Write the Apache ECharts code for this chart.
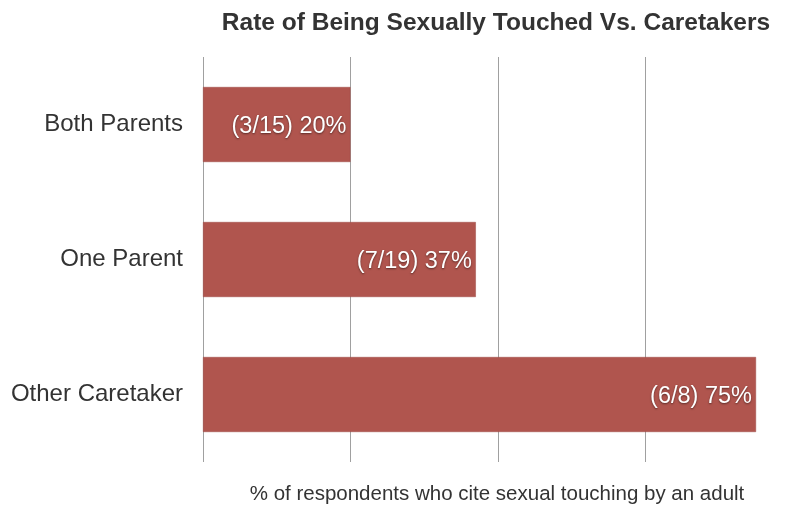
<!DOCTYPE html>
<html>
<head>
<meta charset="utf-8">
<script src="https://cdn.jsdelivr.net/npm/echarts@6/dist/echarts.min.js"></script>
<style>
  html, body { margin: 0; padding: 0; background: #fff; }
  #chart { width: 792px; height: 506px; }
</style>
</head>
<body>
<div id="chart"></div>
<script>
var categories = ["Both Parents", "One Parent", "Other Caretaker"];
var rates = [20, 37, 75];
var counts = ["3/15", "7/19", "6/8"];

var chartDom = document.getElementById("chart");
var myChart = echarts.init(chartDom);
var option;

option = {
  title: {
    text: "Rate of Being Sexually Touched Vs. Caretakers",
    left: 491,
    top: 6,
    textAlign: "center",
    textStyle: {
      fontFamily: "Liberation Sans",
      fontSize: 24.5,
      fontWeight: "bold",
      color: "#333"
    }
  },
  grid: {
    left: 203,
    right: 36,
    top: 57,
    bottom: 44,
    containLabel: false,
    outerBoundsMode: "none"
  },
  xAxis: {
    type: "value",
    min: 0,
    max: 75,
    interval: 20,
    name: "% of respondents who cite sexual touching by an adult",
    nameLocation: "middle",
    nameGap: 22,
    nameTextStyle: {
      fontFamily: "Liberation Sans",
      fontSize: 20.5,
      color: "#333",
      padding: [0, 0, 0, 35]
    },
    axisLine: { show: false },
    axisTick: { show: false },
    axisLabel: { show: false },
    splitLine: {
      show: true,
      showMaxLine: false,
      lineStyle: { color: "#a0a0a0", width: 1 }
    }
  },
  yAxis: {
    type: "category",
    inverse: true,
    data: categories,
    axisLine: { show: false },
    axisTick: { show: false },
    axisLabel: {
      margin: 20,
      padding: [4, 0, 0, 0],
      fontFamily: "Liberation Sans",
      fontSize: 24,
      color: "#333"
    }
  },
  series: [
    {
      type: "bar",
      data: rates,
      barWidth: 75,
      itemStyle: {
        color: "#b0554e",
        borderColor: "#9c4a44",
        borderWidth: 0.5
      },
      label: {
        show: true,
        position: "insideRight",
        distance: 4,
        offset: [0, 2],
        fontFamily: "Liberation Sans",
        fontSize: 23.5,
        color: "#fff",
        textShadowColor: "rgba(0,0,0,0.5)",
        textShadowBlur: 2,
        textShadowOffsetY: 1,
        formatter: function (p) {
          return "(" + counts[p.dataIndex] + ") " + p.value + "%";
        }
      }
    }
  ]
};

option && myChart.setOption(option);
</script>
</body>
</html>
